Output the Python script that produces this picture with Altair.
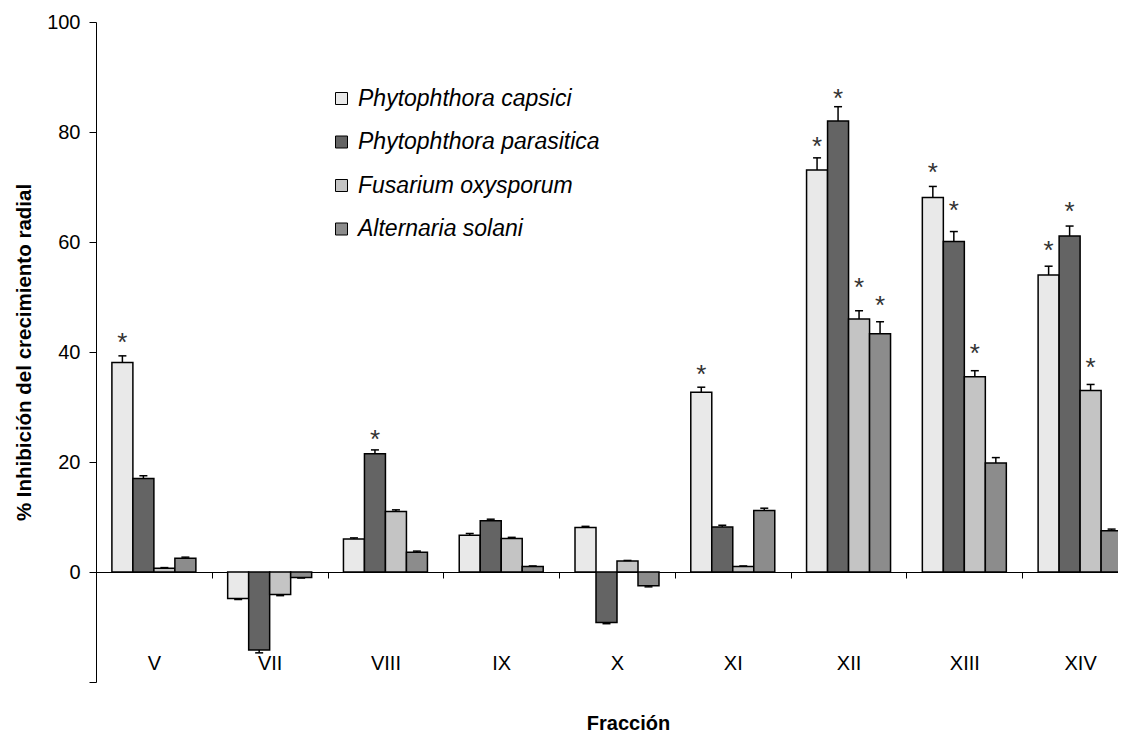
import altair as alt
import pandas as pd

fracciones = ["V", "VII", "VIII", "IX", "X", "XI", "XII", "XIII", "XIV"]
especies = ["Phytophthora capsici", "Phytophthora parasitica",
            "Fusarium oxysporum", "Alternaria solani"]

capsici = [38.1, -4.8, 6.0, 6.7, 8.1, 32.7, 73.1, 68.1, 54.0]
parasitica = [17.0, -14.2, 21.5, 9.3, -9.2, 8.2, 82.0, 60.1, 61.1]
fusarium = [0.7, -4.1, 11.0, 6.1, 2.0, 1.0, 46.0, 35.5, 33.0]
alternaria = [2.5, -1.0, 3.6, 1.0, -2.5, 11.2, 43.3, 19.8, 7.5]

capsici_err = [1.2, 0.2, 0.2, 0.3, 0.2, 0.9, 2.2, 2.0, 1.6]
parasitica_err = [0.5, 0.5, 0.7, 0.3, 0.2, 0.3, 2.6, 1.8, 1.8]
fusarium_err = [0.1, 0.2, 0.3, 0.2, 0.1, 0.1, 1.5, 1.1, 1.1]
alternaria_err = [0.2, 0.1, 0.2, 0.1, 0.2, 0.4, 2.2, 1.0, 0.3]

# significance asterisks: (fraction, species, y position of the asterisk)
star_frac = ["V", "VIII", "XI", "XII", "XII", "XII", "XII",
             "XIII", "XIII", "XIII", "XIV", "XIV", "XIV"]
star_sp = ["Phytophthora capsici", "Phytophthora parasitica", "Phytophthora capsici",
           "Phytophthora capsici", "Phytophthora parasitica", "Fusarium oxysporum",
           "Alternaria solani",
           "Phytophthora capsici", "Phytophthora parasitica", "Fusarium oxysporum",
           "Phytophthora capsici", "Phytophthora parasitica", "Fusarium oxysporum"]
star_y = [42.9, 25.3, 37.1, 78.5, 87.3, 53.0, 49.6, 73.8, 66.9, 40.9, 59.6, 66.7, 38.4]

colores = ["#e9e9e9", "#646464", "#c4c4c4", "#8c8c8c"]

series = [capsici, parasitica, fusarium, alternaria]
errs = [capsici_err, parasitica_err, fusarium_err, alternaria_err]
rows = []
for sp, vals, es in zip(especies, series, errs):
    for f, v, e in zip(fracciones, vals, es):
        rows.append({"frac": f, "species": sp, "value": v,
                     "end": v + e if v >= 0 else v - e})
df = pd.DataFrame(rows)
stars = pd.DataFrame({"frac": star_frac, "species": star_sp, "y": star_y})

FONT = "Liberation Sans"
YTITLE = "% Inhibición del crecimiento radial"

x_enc = alt.X(
    "frac:N", sort=fracciones,
    scale=alt.Scale(paddingInner=0, paddingOuter=0, range=[0, 1042]),
    axis=alt.Axis(
        title="Fracción", titleFontSize=20, titleFontWeight="bold", titleFont=FONT,
        titleColor="black",
        titleX=532, titleY=151, titleAlign="center", titleBaseline="middle",
        labelAngle=0, labelFontSize=20, labelFont=FONT, labelColor="black",
        labelPadding=75, tickBand="extent", tickSize=6, tickColor="black",
        domainColor="black", domainWidth=1, offset=-110,
    ),
)
xoff_enc = alt.XOffset("species:N", sort=especies,
                       scale=alt.Scale(paddingInner=0, paddingOuter=0.757))
y_scale = alt.Scale(domain=[-20, 100], nice=False, zero=False)
y_axis = alt.Axis(
    values=[-20, 0, 20, 40, 60, 80, 100],
    labelExpr="datum.value < 0 ? '' : datum.label",
    tickSize=7, labelPadding=9, labelFontSize=20, labelFont=FONT, labelColor="black",
    domainColor="black", tickColor="black", grid=False,
    title=YTITLE, titleX=-72, titleY=330, titleAngle=270,
    titleAlign="center", titleBaseline="middle",
    titleFontSize=20.5, titleFontWeight="bold", titleFont=FONT, titleColor="black",
)

base = alt.Chart(df).encode(x=x_enc, xOffset=xoff_enc)

bars = base.mark_bar(stroke="black", strokeWidth=1.5).encode(
    y=alt.Y("value:Q", scale=y_scale, axis=y_axis, title=YTITLE),
    fill=alt.Fill(
        "species:N", sort=especies,
        scale=alt.Scale(domain=especies, range=colores),
        legend=alt.Legend(
            orient="none", legendX=234, legendY=65, title=None,
            symbolType="square", symbolSize=144, symbolStrokeColor="black",
            symbolStrokeWidth=1, symbolOpacity=1,
            labelFontSize=23, labelFont=FONT, labelFontStyle="italic",
            labelColor="black", labelOffset=5, rowPadding=19.5, padding=0,
            labelLimit=0,
        ),
    ),
)

rules = base.mark_rule(color="black", strokeWidth=1.5).encode(
    y=alt.Y("value:Q", scale=y_scale, title=YTITLE), y2="end:Q"
)
caps = base.mark_tick(color="black", thickness=1.5, size=8, opacity=1).encode(
    y=alt.Y("end:Q", scale=y_scale, title=YTITLE)
)
star_layer = alt.Chart(stars).mark_text(
    text="*", fontSize=26, font=FONT, color="#333333", baseline="alphabetic", dy=15
).encode(
    x=alt.X("frac:N", sort=fracciones),
    xOffset=alt.XOffset("species:N", sort=especies),
    y=alt.Y("y:Q", scale=y_scale, title=YTITLE),
)

chart = alt.layer(bars, rules, caps, star_layer).properties(
    width=1022, height=660,
    autosize=alt.AutoSizeParams(type="none"),
    padding={"left": 88, "top": 14, "right": 0, "bottom": 50},
).configure_view(stroke=None)

chart.save("out.html", embed_options={"renderer": "svg", "actions": False})
